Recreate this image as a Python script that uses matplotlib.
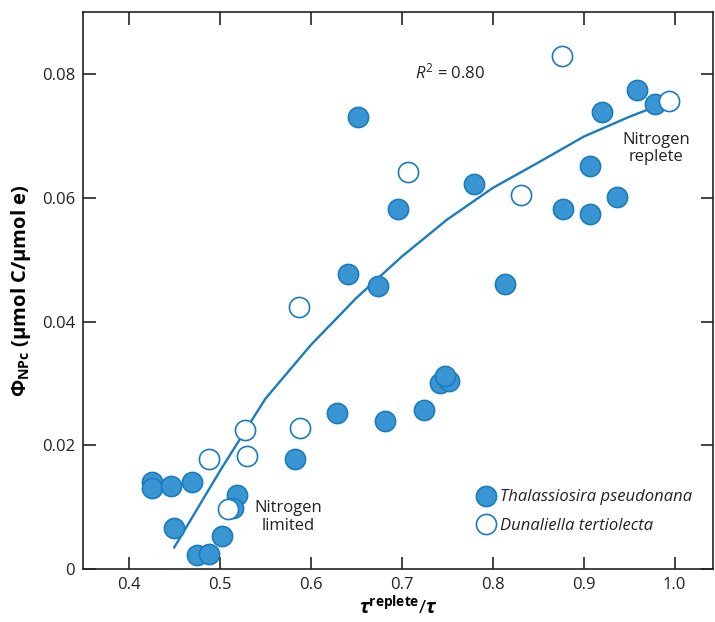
import matplotlib
matplotlib.use("Agg")
import matplotlib.pyplot as plt

plt.rcParams['font.family'] = ['Open Sans', 'DejaVu Sans']
plt.rcParams['mathtext.fontset'] = 'custom'
plt.rcParams['mathtext.rm'] = 'Open Sans'
plt.rcParams['mathtext.it'] = 'Open Sans:italic'
plt.rcParams['mathtext.bf'] = 'Open Sans:bold'
plt.rcParams['mathtext.bfit'] = 'Open Sans:bold:italic'

# Thalassiosira pseudonana (filled)
thal_x = [0.425, 0.425, 0.4465, 0.469, 0.450, 0.4754, 0.488, 0.5025, 0.519, 0.515,
          0.5827, 0.6286, 0.6817, 0.7249, 0.742, 0.752, 0.7476, 0.6523, 0.6413,
          0.6963, 0.7795, 0.6743, 0.8135, 0.8776, 0.907, 0.9363, 0.907, 0.9198,
          0.9582, 0.9784]
thal_y = [0.0141, 0.0131, 0.0135, 0.0141, 0.0066, 0.0023, 0.0024, 0.0053, 0.0119, 0.0098,
          0.01785, 0.0253, 0.0239, 0.02565, 0.0301, 0.0304, 0.0312, 0.0731, 0.0477,
          0.0582, 0.0622, 0.0457, 0.0461, 0.0582, 0.0574, 0.0602, 0.0652, 0.0739,
          0.0775, 0.0751]

# Dunaliella tertiolecta (open)
dun_x = [0.8758, 0.9937, 0.7073, 0.8308, 0.5875, 0.5882, 0.5278, 0.5297, 0.4882, 0.5095]
dun_y = [0.0830, 0.0756, 0.0642, 0.0604, 0.0424, 0.02285, 0.0224, 0.01828, 0.01774, 0.00968]

# fitted curve
fit_x = [0.45, 0.50, 0.55, 0.60, 0.65, 0.70, 0.75, 0.80, 0.85, 0.90, 0.95, 0.98]
fit_y = [0.0035, 0.0158, 0.0275, 0.0362, 0.0438, 0.0505, 0.0565, 0.0616, 0.0657, 0.0699, 0.0731, 0.0748]

xticks = [0.4, 0.5, 0.6, 0.7, 0.8, 0.9, 1.0]
xtick_labels = ['0.4', '0.5', '0.6', '0.7', '0.8', '0.9', '1.0']
yticks = [0, 0.02, 0.04, 0.06, 0.08]
ytick_labels = ['0', '0.02', '0.04', '0.06', '0.08']

fill_c = '#3a96d2'
edge_c = '#1a7cc0'

fig = plt.figure(figsize=(7.15, 6.22), dpi=100)
ax = fig.add_axes([0.1165, 0.0852, 0.8805, 0.8950])

ax.plot(fit_x, fit_y, color=edge_c, lw=1.7, zorder=2)
ax.plot(thal_x, thal_y, 'o', ms=14.5, mfc=fill_c, mec=edge_c, mew=1.2, zorder=3,
        label='Thalassiosira pseudonana')
ax.plot(dun_x, dun_y, 'o', ms=14.5, mfc='white', mec=edge_c, mew=1.2, zorder=4,
        label='Dunaliella tertiolecta')

ax.set_xlim(0.35, 1.042)
ax.set_ylim(0, 0.09)
ax.set_xticks(xticks)
ax.set_xticklabels(xtick_labels)
ax.set_yticks(yticks)
ax.set_yticklabels(ytick_labels)
ax.tick_params(direction='in', length=9, width=1.2, top=True, right=True,
               labelsize=12, color='#222222', labelcolor='#222222', pad=6)
for s in ax.spines.values():
    s.set_linewidth(1.2)
    s.set_color('#222222')

ax.set_xlabel(r'$\mathbfit{\tau}^{\mathbf{replete}}/\mathbfit{\tau}$', fontsize=14, labelpad=1)
ax.set_ylabel(r'$\mathbf{\Phi}_{\mathbf{NPc}}$ (μmol C/μmol e)', fontsize=14.5,
              fontweight='bold', labelpad=6)

ax.text(0.753, 0.0802, r'$R^2$ = 0.80', fontsize=12, ha='center', va='center', color='#222222')
ax.text(0.980, 0.0680, 'Nitrogen\nreplete', fontsize=12, ha='center', va='center',
        color='#222222', linespacing=1.1)
ax.text(0.5754, 0.0084, 'Nitrogen\nlimited', fontsize=12, ha='center', va='center',
        color='#222222', linespacing=1.1)

leg = ax.legend(loc='lower right', bbox_to_anchor=(0.983, 0.045), frameon=False,
                prop={'style': 'italic', 'size': 12}, handletextpad=0.1,
                labelspacing=0.75, borderaxespad=0.2, handlelength=1.5)
for t in leg.get_texts():
    t.set_color('#222222')

fig.savefig('out.png', dpi=100)
